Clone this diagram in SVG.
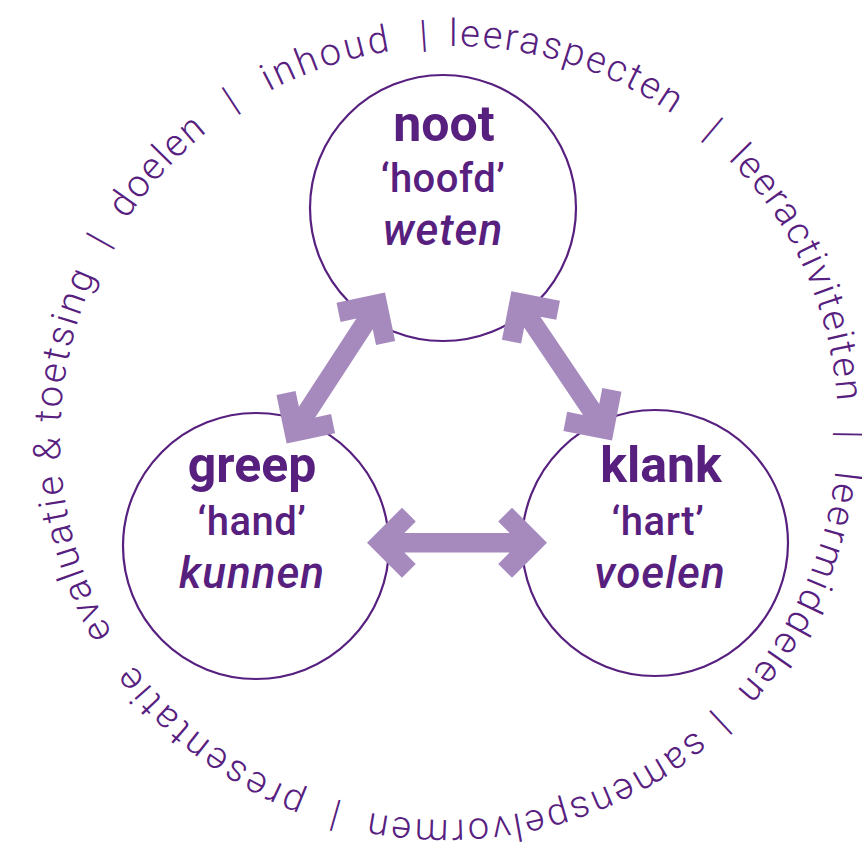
<svg xmlns="http://www.w3.org/2000/svg" xmlns:xlink="http://www.w3.org/1999/xlink" width="862" height="850" viewBox="0 0 862 850">
<style>
.node circle{fill:#fff;stroke:#57207f;stroke-width:2.2}
.t1{font-family:Roboto,"DejaVu Sans",sans-serif;font-weight:700;font-size:50px;fill:#57207f;text-anchor:middle}
.t2{font-family:Roboto,"DejaVu Sans",sans-serif;font-weight:500;font-size:40px;fill:#57207f;text-anchor:middle;letter-spacing:0.5px}
.t3{font-family:Roboto,"DejaVu Sans",sans-serif;font-weight:500;font-style:italic;font-size:44px;fill:#57207f;text-anchor:middle;letter-spacing:1px}
.ring{font-family:Roboto,"DejaVu Sans",sans-serif;font-weight:300;font-size:38px;fill:#57207f}
.bar{text-anchor:middle}
.arrow{fill:#a68abd}
</style>
<defs>
<path id="ringpath" d="M116.6,640.7 A392,392 0 0,1 781.4,225.3 A392,392 0 0,1 116.6,640.7"/>
<polygon id="dblarrow" points="-90,0 -55,-35 -41.2,-21.2 -52.65,-9.75 52.65,-9.75 41.2,-21.2 55,-35 90,0 55,35 41.2,21.2 52.65,9.75 -52.65,9.75 -41.2,21.2 -55,35"/>
</defs>
<rect width="862" height="850" fill="#fff"/>
<g id="ring" class="ring">
<text><textPath xlink:href="#ringpath" href="#ringpath" startOffset="8" textLength="372.9" lengthAdjust="spacing">evaluatie &amp; toetsing</textPath></text>
<text class="bar"><textPath xlink:href="#ringpath" href="#ringpath" startOffset="413">|</textPath></text>
<text><textPath xlink:href="#ringpath" href="#ringpath" startOffset="444.3" textLength="119.7" lengthAdjust="spacing">doelen</textPath></text>
<text class="bar"><textPath xlink:href="#ringpath" href="#ringpath" startOffset="601">|</textPath></text>
<text><textPath xlink:href="#ringpath" href="#ringpath" startOffset="638" textLength="128.6" lengthAdjust="spacing">inhoud</textPath></text>
<text class="bar"><textPath xlink:href="#ringpath" href="#ringpath" startOffset="800.8">|</textPath></text>
<text><textPath xlink:href="#ringpath" href="#ringpath" startOffset="825.4" textLength="237.4" lengthAdjust="spacing">leeraspecten</textPath></text>
<text class="bar"><textPath xlink:href="#ringpath" href="#ringpath" startOffset="1103.2">|</textPath></text>
<text><textPath xlink:href="#ringpath" href="#ringpath" startOffset="1134" textLength="271.6" lengthAdjust="spacing">leeractiviteiten</textPath></text>
<text class="bar"><textPath xlink:href="#ringpath" href="#ringpath" startOffset="1438.4">|</textPath></text>
<text><textPath xlink:href="#ringpath" href="#ringpath" startOffset="1474.7" textLength="245.6" lengthAdjust="spacing">leermiddelen</textPath></text>
<text class="bar"><textPath xlink:href="#ringpath" href="#ringpath" startOffset="1753.2">|</textPath></text>
<text><textPath xlink:href="#ringpath" href="#ringpath" startOffset="1777.1" textLength="347.6" lengthAdjust="spacing">samenspelvormen</textPath></text>
<text class="bar"><textPath xlink:href="#ringpath" href="#ringpath" startOffset="2156.8">|</textPath></text>
<text><textPath xlink:href="#ringpath" href="#ringpath" startOffset="2189.7" textLength="219.6" lengthAdjust="spacing">presentatie</textPath></text>
<text class="bar"><textPath xlink:href="#ringpath" href="#ringpath" startOffset="2438.7">|</textPath></text>
</g>
<g id="node-noot" class="node">
<circle cx="443" cy="208" r="133"/>
<text class="t1" x="444" y="141">noot</text>
<text class="t2" x="443" y="192">‘hoofd’</text>
<text class="t3" x="443" y="245">weten</text>
</g>
<g id="node-greep" class="node">
<circle cx="256" cy="546" r="133"/>
<text class="t1" x="252" y="482">greep</text>
<text class="t2" x="252" y="535">‘hand’</text>
<text class="t3" x="252" y="588">kunnen</text>
</g>
<g id="node-klank" class="node">
<circle cx="655" cy="543" r="133"/>
<text class="t1" x="661" y="482">klank</text>
<text class="t2" x="658" y="535">‘hart’</text>
<text class="t3" x="660" y="588">voelen</text>
</g>
<g id="connectors" class="arrow">
<use xlink:href="#dblarrow" href="#dblarrow" transform="translate(335.8,368) rotate(-56.9)"/>
<use xlink:href="#dblarrow" href="#dblarrow" transform="translate(561.7,365.8) rotate(56)"/>
<use xlink:href="#dblarrow" href="#dblarrow" transform="translate(457,542.7)"/>
</g>
</svg>
